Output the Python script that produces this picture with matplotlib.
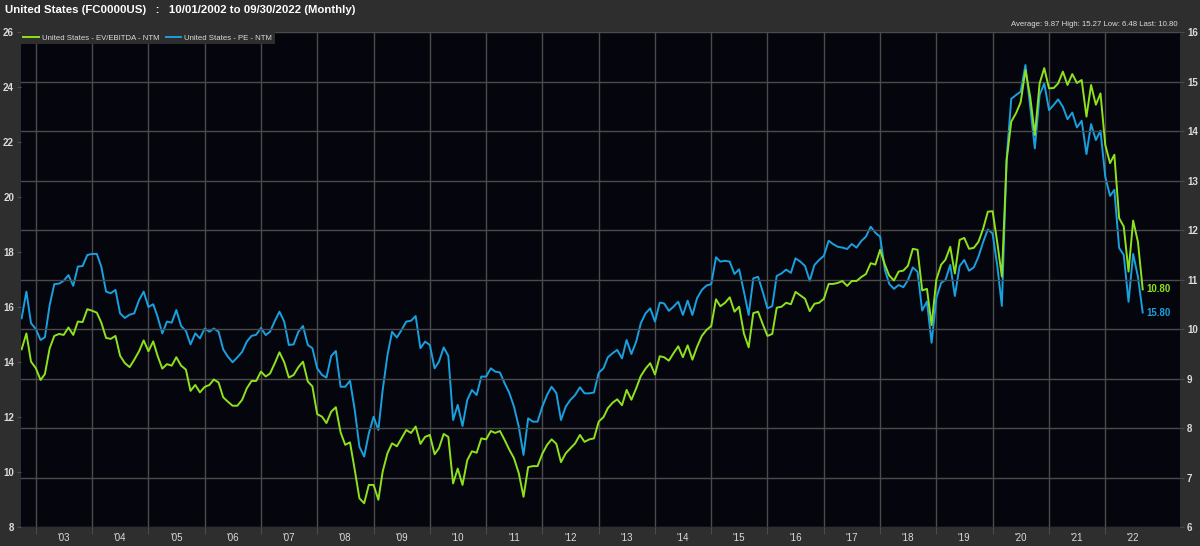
import numpy as np
import pandas as pd
import matplotlib
matplotlib.use("Agg")
import matplotlib.pyplot as plt
import matplotlib.dates as mdates
from matplotlib.ticker import FixedLocator, NullFormatter

plt.rcParams["font.family"] = ["Liberation Sans", "DejaVu Sans"]

TITLE = "United States (FC0000US)   :   10/01/2002 to 09/30/2022 (Monthly)"
STATS = "Average: 9.87 High: 15.27 Low: 6.48 Last: 10.80"
START = "2002-10-01"

# United States - PE - NTM (left axis), monthly
pe_ntm = [
    15.59, 16.56, 15.41, 15.2, 14.8, 14.9, 16.07, 16.83, 16.85, 16.95,
    17.16, 16.77, 17.47, 17.49, 17.89, 17.93, 17.93, 17.47, 16.56, 16.5,
    16.62, 15.77, 15.6, 15.72, 15.77, 16.25, 16.56, 16.0, 16.1, 15.65,
    15.04, 15.47, 15.43, 15.89, 15.31, 15.13, 14.64, 15.04, 14.86, 15.22,
    15.1, 15.22, 15.1, 14.46, 14.19, 13.99, 14.17, 14.37, 14.74, 14.95,
    14.99, 15.24, 14.98, 15.1, 15.49, 15.83, 15.47, 14.62, 14.64, 15.1,
    15.31, 14.62, 14.5, 13.77, 13.53, 13.43, 14.22, 14.4, 13.1, 13.1,
    13.32, 12.25, 10.92, 10.56, 11.4, 12.01, 11.53, 12.98, 14.25, 15.1,
    14.89, 15.16, 15.47, 15.5, 15.67, 14.5, 14.74, 14.62, 13.77, 14.01,
    14.53, 14.22, 11.89, 12.44, 11.67, 12.62, 12.98, 12.8, 13.47, 13.47,
    13.77, 13.65, 13.62, 13.23, 12.87, 12.38, 11.65, 10.62, 11.95, 11.83,
    11.83, 12.38, 12.8, 13.1, 12.87, 11.89, 12.38, 12.62, 12.8, 13.08,
    12.86, 12.86, 12.89, 13.61, 13.77, 14.17, 14.32, 14.44, 14.13, 14.8,
    14.29, 14.74, 15.41, 15.77, 15.95, 15.47, 16.16, 16.13, 15.86, 16.01,
    16.19, 15.71, 16.23, 15.71, 16.32, 16.62, 16.78, 16.83, 17.81, 17.65,
    17.68, 17.65, 17.2, 17.37, 16.56, 15.71, 17.04, 17.1, 16.56, 15.95,
    16.03, 17.13, 17.22, 17.36, 17.24, 17.77, 17.65, 17.49, 16.95, 17.53,
    17.71, 17.86, 18.41, 18.29, 18.19, 18.16, 18.11, 18.29, 18.16, 18.4,
    18.56, 18.92, 18.7, 18.56, 17.35, 16.84, 16.66, 16.8, 16.72, 16.98,
    17.44, 17.28, 15.87, 16.2, 14.7, 16.33, 16.88, 16.98, 17.53, 16.4,
    17.49, 17.71, 17.32, 17.44, 17.83, 18.37, 18.82, 18.67, 17.47, 16.04,
    21.4, 23.57, 23.71, 23.83, 24.8, 23.28, 21.77, 23.71, 24.13, 23.16,
    23.35, 23.55, 23.28, 22.83, 23.07, 22.53, 22.77, 21.56, 22.65, 22.07,
    22.41, 20.74, 20.04, 20.26, 18.15, 17.89, 16.19, 17.93, 17.1, 15.8,
]

# United States - EV/EBITDA - NTM (right axis), monthly
ev_ebitda_ntm = [
    9.59, 9.91, 9.34, 9.21, 8.97, 9.09, 9.61, 9.86, 9.9, 9.88,
    10.03, 9.88, 10.15, 10.14, 10.4, 10.37, 10.33, 10.13, 9.82, 9.8,
    9.86, 9.46, 9.31, 9.23, 9.38, 9.55, 9.77, 9.55, 9.75, 9.46,
    9.2, 9.29, 9.26, 9.43, 9.26, 9.18, 8.75, 8.87, 8.72, 8.83,
    8.87, 8.98, 8.92, 8.62, 8.53, 8.45, 8.45, 8.57, 8.8, 8.95,
    8.95, 9.14, 9.04, 9.1, 9.31, 9.53, 9.33, 9.02, 9.07, 9.23,
    9.34, 8.94, 8.84, 8.28, 8.23, 8.1, 8.33, 8.42, 7.91, 7.66,
    7.71, 7.15, 6.58, 6.48, 6.85, 6.85, 6.55, 7.12, 7.49, 7.69,
    7.63, 7.79, 7.96, 7.9, 8.03, 7.68, 7.82, 7.86, 7.47, 7.59,
    7.88, 7.82, 6.88, 7.18, 6.85, 7.35, 7.53, 7.5, 7.79, 7.77,
    7.94, 7.9, 7.94, 7.76, 7.56, 7.39, 7.09, 6.61, 7.21, 7.23,
    7.23, 7.48, 7.66, 7.77, 7.68, 7.31, 7.49, 7.59, 7.69, 7.86,
    7.72, 7.77, 7.79, 8.13, 8.22, 8.4, 8.51, 8.58, 8.46, 8.77,
    8.57, 8.8, 9.05, 9.2, 9.31, 9.08, 9.45, 9.43, 9.36, 9.51,
    9.65, 9.43, 9.67, 9.38, 9.64, 9.86, 9.98, 10.06, 10.6, 10.46,
    10.53, 10.64, 10.35, 10.45, 9.91, 9.63, 10.32, 10.35, 10.1, 9.86,
    9.9, 10.43, 10.45, 10.53, 10.5, 10.75, 10.68, 10.61, 10.36, 10.51,
    10.53, 10.61, 10.91, 10.91, 10.93, 10.97, 10.87, 10.97, 10.97, 11.05,
    11.11, 11.33, 11.3, 11.6, 11.3, 11.08, 10.98, 11.16, 11.18, 11.28,
    11.62, 11.6, 10.78, 10.81, 10.08, 11.0, 11.3, 11.4, 11.66, 11.12,
    11.8, 11.84, 11.62, 11.64, 11.76, 12.03, 12.37, 12.38, 11.73, 11.06,
    13.41, 14.19, 14.36, 14.58, 15.23, 14.69, 13.92, 14.96, 15.27, 14.86,
    14.87, 14.96, 15.2, 14.93, 15.15, 14.97, 15.03, 14.29, 14.93, 14.53,
    14.76, 13.72, 13.35, 13.52, 12.24, 12.07, 11.16, 12.19, 11.76, 10.8,
]

dates = pd.date_range(START, periods=len(pe_ntm), freq="MS")

BG = "#2e2e2e"
PLOT_BG = "#05050e"
GREEN = "#8ee21c"
BLUE = "#18a0df"
GRID = "#4b4b4b"
TXT = "#dcdcdc"

fig = plt.figure(figsize=(12, 5.46), dpi=100, facecolor=BG)
ax = fig.add_axes([21 / 1200, 19 / 546, 1159 / 1200, 495 / 546])
ax.set_facecolor(PLOT_BG)
ax2 = ax.twinx()

ax.plot(dates, pe_ntm, color=BLUE, lw=1.4, label="United States - PE - NTM")
ax2.plot(dates, ev_ebitda_ntm, color=GREEN, lw=1.4, label="United States - EV/EBITDA - NTM")

ax.set_ylim(8, 26)
ax.set_yticks(range(8, 27, 2))
ax2.set_ylim(6, 16)
ax2.set_yticks(range(6, 17))

ax.set_xlim(pd.Timestamp("2002-09-27"), pd.Timestamp("2023-05-01"))
year_starts = mdates.date2num(pd.date_range("2003-01-01", "2022-01-01", freq="YS"))
mid_years = mdates.date2num(pd.date_range("2003-07-01", "2022-07-01", freq="12MS"))
ax.xaxis.set_major_locator(FixedLocator(year_starts))
ax.xaxis.set_major_formatter(NullFormatter())
ax.xaxis.set_minor_locator(FixedLocator(mid_years))
ax.xaxis.set_minor_formatter(mdates.DateFormatter("'%y"))

ax.grid(axis="x", which="major", color=GRID, lw=1)
ax2.grid(axis="y", color=GRID, lw=1)

ax.tick_params(axis="x", which="major", length=5, color=GRID)
ax.tick_params(axis="x", which="minor", length=0, labelsize=7, labelcolor=TXT, pad=4)
ax.tick_params(axis="y", length=3, color=GRID, labelsize=7, labelcolor=TXT, pad=2)
ax2.tick_params(axis="y", length=3, color=GRID, labelsize=7, labelcolor=TXT, pad=2)
for a in (ax, ax2):
    for s in a.spines.values():
        s.set_visible(False)
for lab in ax.get_yticklabels() + ax2.get_yticklabels():
    lab.set_fontweight("bold")

h1, l1 = ax.get_legend_handles_labels()
h2, l2 = ax2.get_legend_handles_labels()
leg = ax2.legend(h2 + h1, l2 + l1, loc="upper left", bbox_to_anchor=(0, 1), ncol=2,
                 fontsize=5.6, frameon=True, facecolor=BG, edgecolor="none", framealpha=1,
                 borderpad=0.3, borderaxespad=0, handlelength=2, handletextpad=0.4,
                 columnspacing=0.8, fancybox=False)
for t in leg.get_texts():
    t.set_color(TXT)

ax2.annotate(f"{ev_ebitda_ntm[-1]:.2f}", xy=(dates[-1], ev_ebitda_ntm[-1]), xytext=(3, 0),
             textcoords="offset points", color=GREEN, fontsize=7, fontweight="bold",
             va="center", annotation_clip=False)
ax.annotate(f"{pe_ntm[-1]:.2f}", xy=(dates[-1], pe_ntm[-1]), xytext=(3, 0),
            textcoords="offset points", color=BLUE, fontsize=7, fontweight="bold",
            va="center", annotation_clip=False)

fig.text(5 / 1200, 1 - 10 / 546, TITLE, ha="left", va="center", fontsize=8.2,
         fontweight="bold", color="white")
fig.text(1178 / 1200, 1 - 25 / 546, STATS, ha="right", va="center", fontsize=5.6, color=TXT)

fig.savefig("out.png", dpi=100, facecolor=BG)
